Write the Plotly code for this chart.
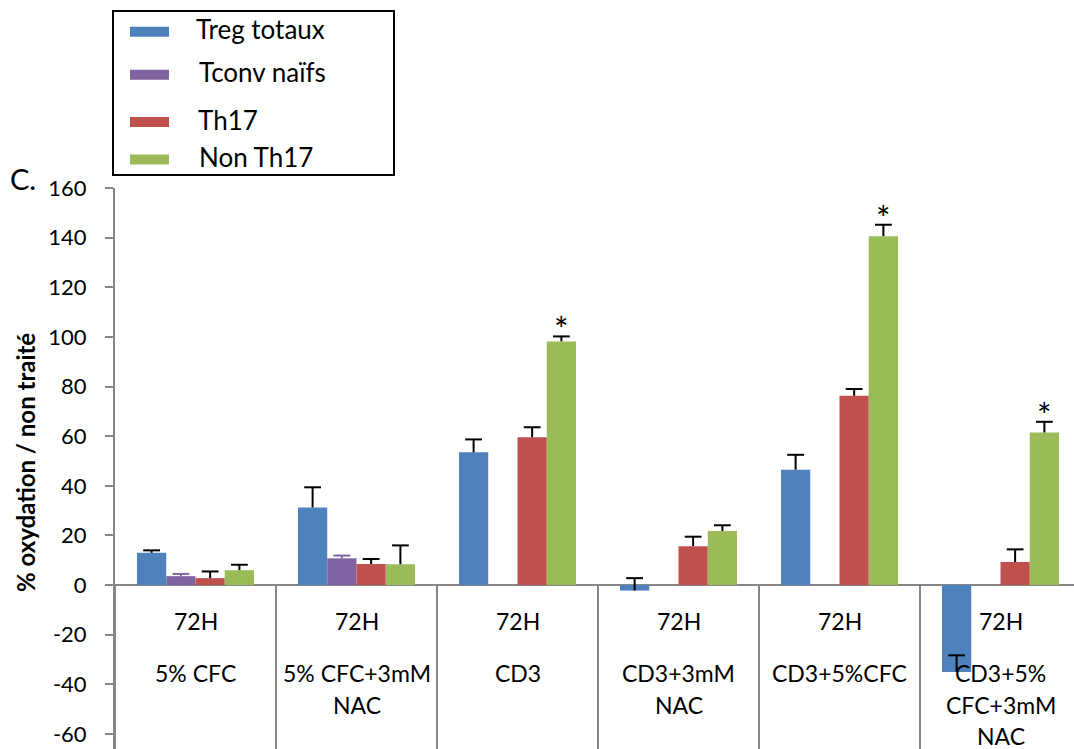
import plotly.graph_objects as go

# ---------------- data ----------------
categories = ["5% CFC", "5% CFC+3mM\nNAC", "CD3", "CD3+3mM\nNAC", "CD3+5%CFC", "CD3+5%\nCFC+3mM\nNAC"]
time_label = "72H"
series_names = ["Treg totaux", "Tconv naïfs", "Th17", "Non Th17"]

treg_totaux = [13.0, 31.3, 53.5, -2.2, 46.5, -35.0]
treg_err = [1.0, 8.1, 5.2, 5.0, 6.0, 6.7]
tconv_naifs = [3.6, 10.8, None, None, None, None]
tconv_err = [0.9, 1.1, None, None, None, None]
th17 = [2.8, 8.5, 59.6, 15.7, 76.3, 9.3]
th17_err = [2.7, 2.0, 4.0, 3.8, 2.7, 5.1]
non_th17 = [6.0, 8.4, 98.2, 21.8, 140.6, 61.5]
non_th17_err = [2.2, 7.6, 2.0, 2.3, 4.6, 4.3]

# significance markers (category index) on the Non Th17 series
star_categories = [2, 4, 5]

y_ticks = [-60, -40, -20, 0, 20, 40, 60, 80, 100, 120, 140, 160]
y_ticktext = [str(v) for v in y_ticks]
y_title = "% oxydation / non traité"
panel_label = "C."

# ---------------- styles ----------------
colors = ["#4F81BD", "#8064A2", "#C0504D", "#9BBB59"]
err_colors = ["#000000", "#8064A2", "#000000", "#000000"]
FONT = "Lato, Carlito, Calibri, 'Open Sans', sans-serif"
W, H = 1074, 749
ML, MT = 115, 188
PW, PH = W - ML, H - MT
CAT_PX = 161.0
Y_MIN, Y_MAX = -66.04, 160
X_MAX = -0.5 + PW / CAT_PX
BARGAP = 0.273
AXIS_GREY = "#868686"


def px_to_paper_x(px):
    return (px - ML) / PW


def px_to_paper_y(py):
    return (H - py) / PH


values = [treg_totaux, tconv_naifs, th17, non_th17]
errors = [treg_err, tconv_err, th17_err, non_th17_err]
xs = list(range(len(categories)))
n_series = len(series_names)
bar_w = (1 - BARGAP) / n_series

fig = go.Figure()
for name, vals, errs, col, ecol in zip(series_names, values, errors, colors, err_colors):
    fig.add_trace(go.Bar(
        x=xs, y=vals, name=name,
        marker=dict(color=col, line=dict(width=0)),
        error_y=dict(type="data", symmetric=False, array=errs,
                     arrayminus=[0 if e is not None else None for e in errs],
                     color=ecol, thickness=2, width=0),
        showlegend=False,
    ))

# error bar caps (top only), placed at the grouped bar centres
for k, (vals, errs, ecol) in enumerate(zip(values, errors, err_colors)):
    off = (k - (n_series - 1) / 2) * bar_w
    cx, cy = [], []
    for i, (v, e) in enumerate(zip(vals, errs)):
        if v is None or e is None:
            continue
        cx.append(i + off)
        cy.append(v + e)
    fig.add_trace(go.Scatter(
        x=cx, y=cy, mode="markers", showlegend=False, hoverinfo="skip",
        marker=dict(symbol="line-ew", size=12, line=dict(color=ecol, width=2)),
    ))

shapes = []
annotations = []

# category separators below the zero line
for i in range(len(categories) + 1):
    shapes.append(dict(type="line", xref="x", yref="y", x0=i - 0.5, x1=i - 0.5,
                       y0=0, y1=Y_MIN, line=dict(color=AXIS_GREY, width=2)))

# multi-level category labels
line_px = [673, 704.5, 736]
for i, cat in enumerate(categories):
    annotations.append(dict(x=i, xref="x", y=px_to_paper_y(621), yref="paper",
                            text=time_label, showarrow=False, yanchor="middle",
                            font=dict(family=FONT, size=23, color="black")))
    for j, part in enumerate(cat.split("\n")):
        annotations.append(dict(x=i, xref="x", y=px_to_paper_y(line_px[j]), yref="paper",
                                text=part, showarrow=False, yanchor="middle",
                                font=dict(family=FONT, size=23, color="black")))

# significance stars
green_offset = ((n_series - 1) - (n_series - 1) / 2) * bar_w
for c in star_categories:
    annotations.append(dict(x=c + green_offset, xref="x", y=non_th17[c] + non_th17_err[c], yref="y",
                            text="*", showarrow=False, yanchor="bottom", yshift=-15,
                            font=dict(family=FONT, size=34, color="black")))

# y title and panel label
annotations.append(dict(x=px_to_paper_x(25), xref="paper", y=px_to_paper_y(463), yref="paper",
                        text="<b>" + y_title + "</b>", textangle=-90, showarrow=False,
                        xanchor="center", yanchor="middle",
                        font=dict(family=FONT, size=24, color="black")))
annotations.append(dict(x=px_to_paper_x(8), xref="paper", y=px_to_paper_y(178), yref="paper",
                        text=panel_label, showarrow=False, xanchor="left", yanchor="middle",
                        font=dict(family=FONT, size=29, color="black")))

# custom legend box
shapes.append(dict(type="rect", xref="paper", yref="paper",
                   x0=px_to_paper_x(113), x1=px_to_paper_x(394),
                   y0=px_to_paper_y(175), y1=px_to_paper_y(11),
                   line=dict(color="black", width=2), fillcolor="white"))
swatch_y = [31.7, 74.7, 122, 159.5]
text_y = [29, 72, 120, 157]
text_x = [194, 197, 196, 197]
for name, col, sy, ty, tx in zip(series_names, colors, swatch_y, text_y, text_x):
    shapes.append(dict(type="rect", xref="paper", yref="paper",
                       x0=px_to_paper_x(130), x1=px_to_paper_x(169),
                       y0=px_to_paper_y(sy + 5), y1=px_to_paper_y(sy - 5),
                       line=dict(width=0), fillcolor=col))
    annotations.append(dict(x=px_to_paper_x(tx), xref="paper", y=px_to_paper_y(ty), yref="paper",
                            text=name, showarrow=False, xanchor="left", yanchor="middle",
                            font=dict(family=FONT, size=26, color="black")))

fig.update_layout(
    width=W, height=H,
    margin=dict(l=ML, r=0, t=MT, b=0, pad=0),
    paper_bgcolor="white", plot_bgcolor="white",
    barmode="group", bargap=BARGAP, bargroupgap=0,
    shapes=shapes, annotations=annotations,
    xaxis=dict(range=[-0.5, X_MAX], showticklabels=False, showgrid=False,
               zeroline=False, showline=False, ticks=""),
    yaxis=dict(range=[Y_MIN, Y_MAX], tickvals=y_ticks, ticktext=y_ticktext, showgrid=False,
               showline=True, linecolor=AXIS_GREY, linewidth=2,
               ticks="outside", ticklen=8, tickwidth=2, tickcolor=AXIS_GREY,
               zeroline=True, zerolinecolor=AXIS_GREY, zerolinewidth=2,
               tickfont=dict(family=FONT, size=22, color="black"),
               ticklabelstandoff=14),
    showlegend=False,
)

fig.write_html("out.html", config={"displayModeBar": False},
               post_script="document.body.style.margin='0px';")
